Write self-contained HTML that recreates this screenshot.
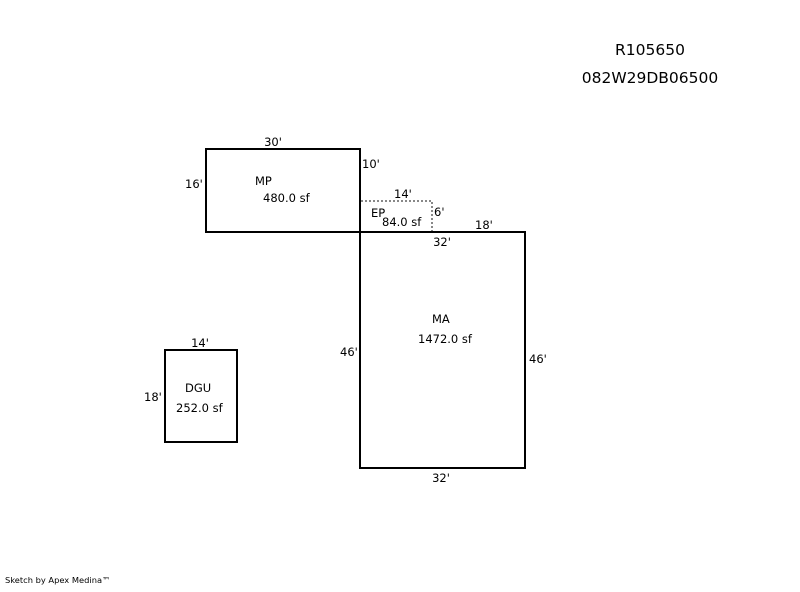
<!DOCTYPE html>
<html><head><style>
body{margin:0;background:#fff;}
svg text{font-family:"DejaVu Sans",Verdana,sans-serif;font-size:11.5px;fill:#000;}
</style></head><body>
<svg width="800" height="587" viewBox="0 0 800 587" xmlns="http://www.w3.org/2000/svg">
<g fill="none" stroke="#000" stroke-width="2">
<rect x="206" y="149" width="154" height="83"/>
<rect x="360" y="232" width="165" height="236"/>
<rect x="165" y="350" width="72" height="92"/>
</g>
<polyline points="361,201 432,201 432,231" fill="none" stroke="#888" stroke-width="2" stroke-dasharray="2,2"/>
<text x="650" y="55" text-anchor="middle" style="font-size:15.5px">R105650</text>
<text x="650" y="83" text-anchor="middle" style="font-size:15.5px">082W29DB06500</text>
<text x="273" y="146" text-anchor="middle">30'</text>
<text x="185" y="188">16'</text>
<text x="255" y="185">MP</text>
<text x="263" y="202">480.0 sf</text>
<text x="362" y="168">10'</text>
<text x="394" y="198">14'</text>
<text x="371" y="217">EP</text>
<text x="382" y="226">84.0 sf</text>
<text x="434" y="216">6'</text>
<text x="475" y="229">18'</text>
<text x="442" y="246" text-anchor="middle">32'</text>
<text x="432" y="323">MA</text>
<text x="418" y="343">1472.0 sf</text>
<text x="340" y="356">46'</text>
<text x="529" y="363">46'</text>
<text x="441" y="482" text-anchor="middle">32'</text>
<text x="200" y="347" text-anchor="middle">14'</text>
<text x="144" y="401">18'</text>
<text x="185" y="392">DGU</text>
<text x="176" y="412">252.0 sf</text>
<text x="5" y="583" style="font-size:8.3px">Sketch by Apex Medina™</text>
</svg>
</body></html>
